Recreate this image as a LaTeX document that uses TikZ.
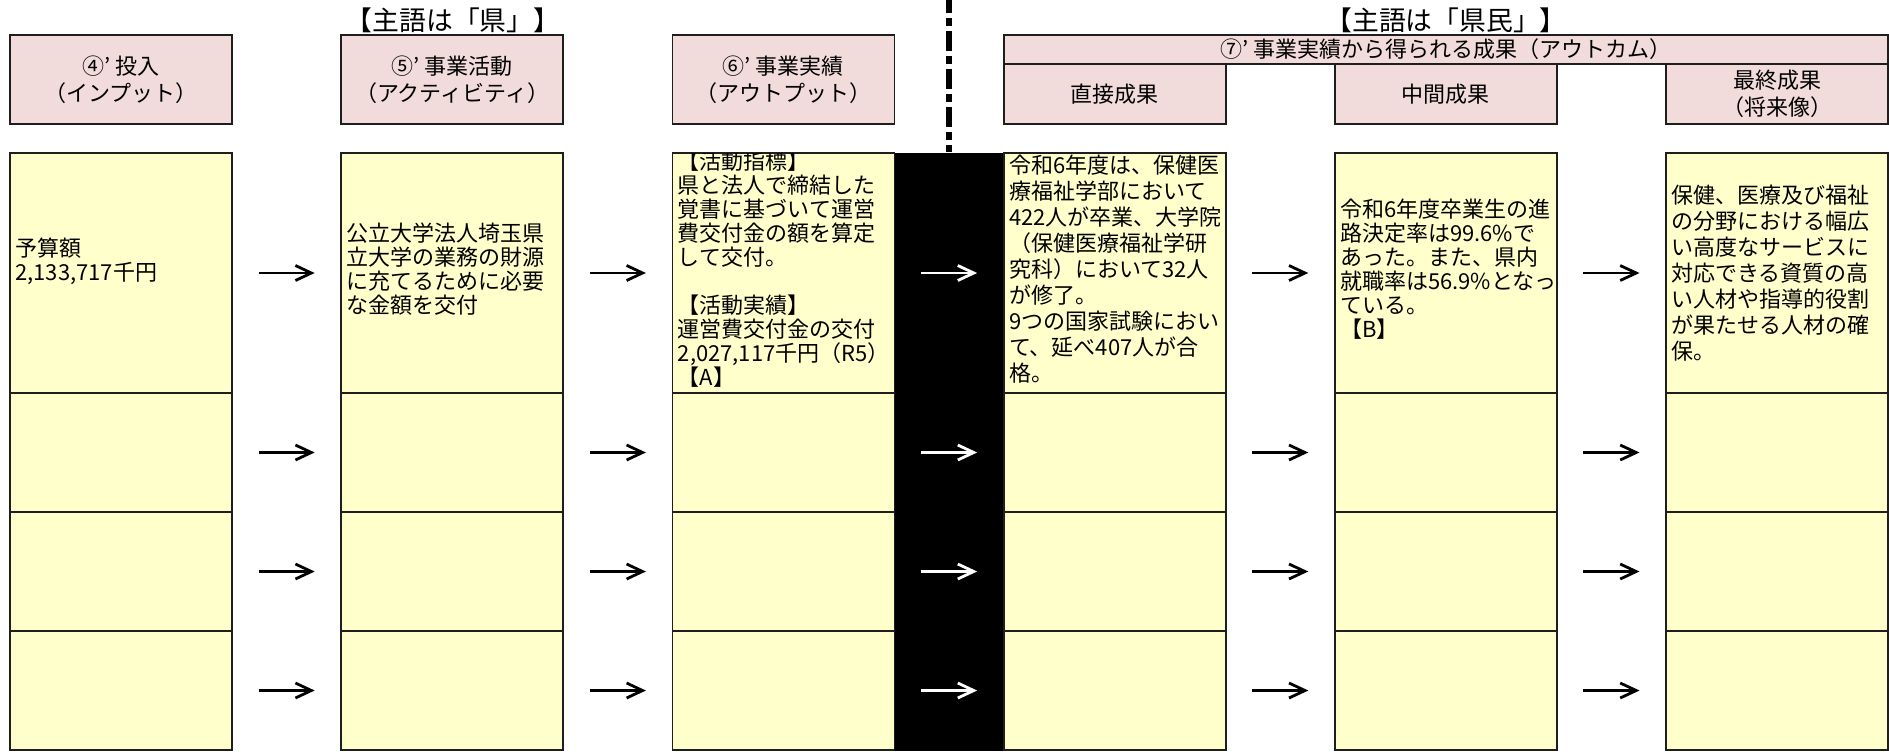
\documentclass[tikz,border=0pt]{standalone}
\usepackage{fontspec}
\setmainfont{Noto Sans CJK JP}
\usetikzlibrary{arrows.meta}
\definecolor{headpink}{HTML}{F2DCDB}
\definecolor{cellyellow}{HTML}{FFFFCC}
\definecolor{gridline}{HTML}{1E1E1E}
\newcommand{\tick}{\char"27\relax}

\begin{document}
\begin{tikzpicture}[x=0.5pt,y=-0.5pt,
	cell/.style={draw=gridline, line width=0.9pt, fill=cellyellow, minimum width=111pt, inner sep=0pt, outer sep=0pt},
	head/.style={draw=gridline, line width=0.9pt, fill=headpink, minimum width=111pt, minimum height=44.5pt, inner sep=0pt, outer sep=0pt, align=center, font=\fontsize{11}{13.5}\selectfont},
	body/.style={anchor=west, xshift=2.5pt, yshift=2pt, inner sep=0pt, align=left, font=\fontsize{11}{13}\selectfont},
	flow/.style={-{Straight Barb[length=8pt,width=7.5pt]}, line width=1.4pt, shorten >=13.25pt, shorten <=13.25pt},
	divider/.style={line width=3pt, dash pattern=on 10pt off 2.5pt on 4pt off 2.5pt, dash phase=3.5pt},
	title/.style={inner sep=0pt, font=\fontsize{13.4}{16}\selectfont}]
	\useasboundingbox (0,0) rectangle (1889,751);
	\node (band) [fill=black, minimum width=54.6pt, minimum height=299pt, inner sep=0pt] at (949,451.5) {};
	\foreach \name [count=\c] in {inp,act,outp,dir,mid,fin}{
		\pgfmathsetmacro{\cx}{121+(\c-1)*331.2}
		\node (\name1) [cell, minimum height=120pt] at (\cx,273) {};
		\node (\name2) [cell, minimum height=59.65pt] at (\cx,452.5) {};
		\node (\name3) [cell, minimum height=59.65pt] at (\cx,571.5) {};
		\node (\name4) [cell, minimum height=59.65pt] at (\cx,690.5) {};
	}
	\foreach \a/\b [count=\c] in {inp/act,act/outp,outp/dir,dir/mid,mid/fin}{
		\foreach \r in {1,...,4}{
			\ifnum\c=3
				\draw[flow, white] (\a\r.east) -- (\b\r.west);
			\else
				\draw[flow] (\a\r.east) -- (\b\r.west);
			\fi
		}
	}
	\coordinate (divtop) at (949,0);
	\draw[divider] (divtop) -- (band.north);
	\node (kenttl) [title] at (453,20) {【主語は「県」】};
	\node (kenminttl) [title] at (1446,20) {【主語は「県民」】};
	\node (inph) [head] at (121,79.5) {④\tick{} 投入\\（インプット）};
	\node (acth) [head] at (452.2,79.5) {⑤\tick{} 事業活動\\（アクティビティ）};
	\node (outph) [head] at (783.4,79.5) {⑥\tick{} 事業実績\\（アウトプット）};
	\node (outch) [head, minimum width=442.2pt, minimum height=14.5pt] at (1445.8,49.5) {⑦\tick{} 事業実績から得られる成果（アウトカム）};
	\node (dirh) [head, minimum height=30pt] at (1114.6,94) {直接成果};
	\node (midh) [head, minimum height=30pt] at (1445.8,94) {中間成果};
	\node (finh) [head, minimum height=30pt] at (1777,94) {最終成果\\（将来像）};
	\node (inptxt) [body, yshift=4pt, font=\fontsize{11}{12}\selectfont] at (inp1.west) {予算額\\2,133,717千円};
	\node (acttxt) [body, font=\fontsize{11}{12}\selectfont] at (act1.west) {公立大学法人埼玉県\\立大学の業務の財源\\に充てるために必要\\な金額を交付};
	\begin{scope}
		\clip (outp1.north west) rectangle (outp1.south east);
		\node (outptxt) [body, font=\fontsize{11}{12}\selectfont] at (outp1.west) {【活動指標】\\県と法人で締結した\\覚書に基づいて運営\\費交付金の額を算定\\して交付。\\[12pt]【活動実績】\\運営費交付金の交付\\2,027,117千円（R5）\\【A】};
	\end{scope}
	\node (dirtxt) [body] at (dir1.west) {令和6年度は、保健医\\療福祉学部において\\422人が卒業、大学院\\（保健医療福祉学研\\究科）において32人\\が修了。\\9つの国家試験におい\\て、延べ407人が合\\格。};
	\node (midtxt) [body, font=\fontsize{11}{12}\selectfont] at (mid1.west) {令和6年度卒業生の進\\路決定率は99.6\%で\\あった。また、県内\\就職率は56.9\%となっ\\ている。\\【B】};
	\node (fintxt) [body, yshift=-2pt] at (fin1.west) {保健、医療及び福祉\\の分野における幅広\\い高度なサービスに\\対応できる資質の高\\い人材や指導的役割\\が果たせる人材の確\\保。};
\end{tikzpicture}
\end{document}
